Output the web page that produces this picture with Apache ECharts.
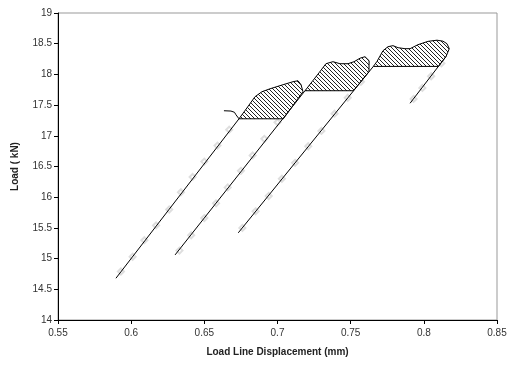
<!DOCTYPE html>
<html>
<head>
<meta charset="utf-8">
<script src="https://cdn.jsdelivr.net/npm/echarts@6/dist/echarts.min.js"></script>
<style>
html,body{margin:0;padding:0;background:#fff;}
#chart{width:516px;height:365px;}
</style>
</head>
<body>
<div id="chart"></div>
<script>
// ---- data (x: load line displacement mm, y: load kN) ----
const xTicks = [0.55, 0.6, 0.65, 0.7, 0.75, 0.8, 0.85];
const yTicks = [14, 14.5, 15, 15.5, 16, 16.5, 17, 17.5, 18, 18.5, 19];

const load1 = [[0.5896, 14.68], [0.6737, 17.277]];
const load2 = [[0.630, 15.06], [0.7188, 17.734]];
const load3 = [[0.6732, 15.42], [0.7655, 18.130]];
const load4 = [[0.7906, 17.53], [0.8152, 18.293]];
const hook = [[0.6737, 17.277], [0.6716, 17.343], [0.6706, 17.383], [0.6682, 17.403], [0.6634, 17.408]];

const area1 = [[0.6737, 17.277], [0.6792, 17.457], [0.6846, 17.636], [0.6894, 17.718], [0.6949, 17.766],
  [0.7038, 17.832], [0.7106, 17.881], [0.7140, 17.897], [0.7161, 17.832], [0.7174, 17.718], [0.7040, 17.277]];
const area2 = [[0.7188, 17.734], [0.7236, 17.881], [0.7284, 18.027], [0.7331, 18.174], [0.7379, 18.207],
  [0.7427, 18.174], [0.7482, 18.174], [0.7523, 18.207], [0.7564, 18.264], [0.7598, 18.288], [0.7626, 18.223],
  [0.7625, 18.044], [0.7519, 17.734]];
const area3 = [[0.7655, 18.130], [0.7680, 18.212], [0.7721, 18.386], [0.7755, 18.451], [0.7789, 18.468],
  [0.7824, 18.435], [0.7871, 18.419], [0.7906, 18.419], [0.7960, 18.484], [0.8028, 18.538], [0.8090, 18.557],
  [0.8131, 18.541], [0.8158, 18.500], [0.8174, 18.419], [0.8152, 18.293], [0.8100, 18.130]];

const marks1 = [[0.593, 14.79], [0.601, 15.03], [0.609, 15.30], [0.617, 15.54], [0.626, 15.80], [0.634, 16.08], [0.642, 16.33], [0.650, 16.58], [0.659, 16.84], [0.667, 17.10]];
const marks2 = [[0.633, 15.13], [0.641, 15.38], [0.650, 15.66], [0.658, 15.90], [0.666, 16.16], [0.675, 16.43], [0.683, 16.68], [0.691, 16.95], [0.700, 17.22], [0.708, 17.49]];
const marks3 = [[0.676, 15.50], [0.685, 15.77], [0.694, 16.02], [0.703, 16.30], [0.712, 16.56], [0.721, 16.83], [0.730, 17.08], [0.739, 17.36], [0.748, 17.62], [0.757, 17.88]];
const marks4 = [[0.793, 17.60], [0.799, 17.78], [0.805, 17.97], [0.812, 18.18]];

// ---- hatch pattern ----
function makeHatch() {
  const c = document.createElement('canvas');
  const s = 4;
  c.width = s; c.height = s;
  const g = c.getContext('2d');
  g.fillStyle = '#fff';
  g.fillRect(0, 0, s, s);
  g.strokeStyle = '#222';
  g.lineWidth = 1;
  g.beginPath();
  g.moveTo(-1, -1); g.lineTo(s + 1, s + 1);
  g.moveTo(-1, s - 1); g.lineTo(1, s + 1);
  g.moveTo(s - 1, -1); g.lineTo(s + 1, 1);
  g.stroke();
  return c;
}
const hatch = { image: makeHatch(), repeat: 'repeat' };

function areaSeries(pts) {
  return {
    type: 'custom',
    data: pts,
    silent: true,
    z: 3,
    renderItem: function (params, api) {
      if (params.dataIndex !== 0) return null;
      const poly = pts.map(p => api.coord(p));
      return {
        type: 'polygon',
        shape: { points: poly },
        style: { fill: hatch, stroke: '#000', lineWidth: 1 }
      };
    }
  };
}
function lineSeries(pts) {
  return {
    type: 'line', data: pts, showSymbol: false, silent: true, z: 4,
    lineStyle: { color: '#000', width: 1 }
  };
}
function markSeries(pts) {
  return {
    type: 'scatter', data: pts, silent: true, z: 2,
    symbol: 'emptyDiamond', symbolSize: 6,
    itemStyle: { color: '#d6d6d6', borderWidth: 1 }
  };
}

const chart = echarts.init(document.getElementById('chart'), null, { renderer: 'canvas' });
const font = 'Liberation Sans, Arial, sans-serif';
chart.setOption({
  animation: false,
  backgroundColor: '#fff',
  grid: { left: 58, right: 19, top: 13, bottom: 45, show: true, borderColor: '#999', borderWidth: 1, backgroundColor: '#fff' },
  xAxis: {
    type: 'value', min: xTicks[0], max: xTicks[xTicks.length - 1], interval: 0.05,
    name: 'Load Line Displacement (mm)', nameLocation: 'middle', nameGap: 27,
    nameTextStyle: { fontFamily: font, fontSize: 10, fontWeight: 'bold', color: '#222' },
    axisLine: { lineStyle: { color: '#000', width: 1 } },
    axisTick: { show: true, length: 4, lineStyle: { color: '#000' } },
    axisLabel: { fontFamily: font, fontSize: 10, color: '#333', margin: 8, formatter: v => String(+v.toFixed(2)) },
    splitLine: { show: false }
  },
  yAxis: {
    type: 'value', min: yTicks[0], max: yTicks[yTicks.length - 1], interval: 0.5,
    name: 'Load ( kN)', nameLocation: 'middle', nameGap: 38,
    nameTextStyle: { fontFamily: font, fontSize: 10, fontWeight: 'bold', color: '#222' },
    axisLine: { show: true, lineStyle: { color: '#000', width: 1 } },
    axisTick: { show: true, length: 4, lineStyle: { color: '#000' } },
    axisLabel: { fontFamily: font, fontSize: 10, color: '#333', margin: 6, formatter: v => String(+v.toFixed(1)) },
    splitLine: { show: false }
  },
  series: [
    markSeries(marks1), markSeries(marks2), markSeries(marks3), markSeries(marks4),
    areaSeries(area1), areaSeries(area2), areaSeries(area3),
    lineSeries(load1), lineSeries(load2), lineSeries(load3), lineSeries(load4), lineSeries(hook)
  ]
});
</script>
</body>
</html>
